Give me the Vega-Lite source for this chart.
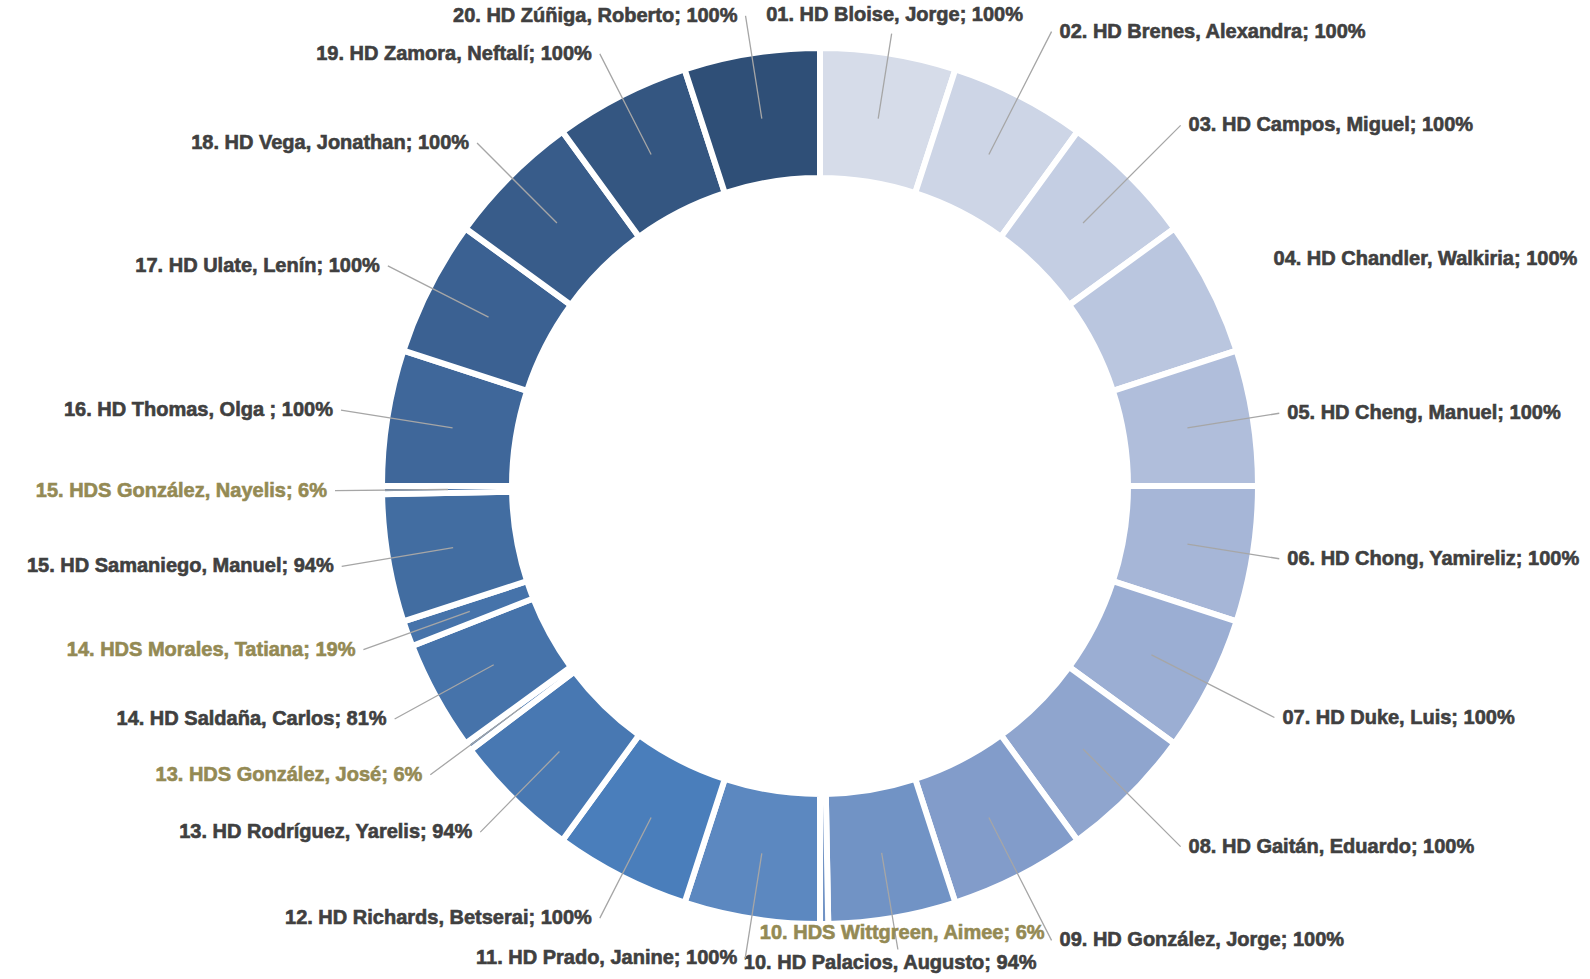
{
  "$schema": "https://vega.github.io/schema/vega-lite/v6.json",
  "width": 1590,
  "height": 979,
  "autosize": {"type": "fit", "contains": "padding"},
  "padding": {"left": 50, "top": 0, "right": 0, "bottom": 7},
  "background": "white",
  "config": {"view": {"stroke": null}, "text": {"font": "Liberation Sans", "fontSize": 20, "fontWeight": "bold", "strokeWidth": 0.6}},
  "data": {"values": [
    {"group": "01", "kind": "HD", "label": "01. HD Bloise, Jorge; 100%", "value": 100},
    {"group": "02", "kind": "HD", "label": "02. HD Brenes, Alexandra; 100%", "value": 100},
    {"group": "03", "kind": "HD", "label": "03. HD Campos, Miguel; 100%", "value": 100},
    {"group": "04", "kind": "HD", "label": "04. HD Chandler, Walkiria; 100%", "value": 100},
    {"group": "05", "kind": "HD", "label": "05. HD Cheng, Manuel; 100%", "value": 100},
    {"group": "06", "kind": "HD", "label": "06. HD Chong, Yamireliz; 100%", "value": 100},
    {"group": "07", "kind": "HD", "label": "07. HD Duke, Luis; 100%", "value": 100},
    {"group": "08", "kind": "HD", "label": "08. HD Gaitán, Eduardo; 100%", "value": 100},
    {"group": "09", "kind": "HD", "label": "09. HD González, Jorge; 100%", "value": 100},
    {"group": "10", "kind": "HD", "label": "10. HD Palacios, Augusto; 94%", "value": 94},
    {"group": "10", "kind": "HDS", "label": "10. HDS Wittgreen, Aimee; 6%", "value": 6},
    {"group": "11", "kind": "HD", "label": "11. HD Prado, Janine; 100%", "value": 100},
    {"group": "12", "kind": "HD", "label": "12. HD Richards, Betserai; 100%", "value": 100},
    {"group": "13", "kind": "HD", "label": "13. HD Rodríguez, Yarelis; 94%", "value": 94},
    {"group": "13", "kind": "HDS", "label": "13. HDS González, José; 6%", "value": 6},
    {"group": "14", "kind": "HD", "label": "14. HD Saldaña, Carlos; 81%", "value": 81},
    {"group": "14", "kind": "HDS", "label": "14. HDS Morales, Tatiana; 19%", "value": 19},
    {"group": "15", "kind": "HD", "label": "15. HD Samaniego, Manuel; 94%", "value": 94},
    {"group": "15", "kind": "HDS", "label": "15. HDS González, Nayelis; 6%", "value": 6},
    {"group": "16", "kind": "HD", "label": "16. HD Thomas, Olga ; 100%", "value": 100},
    {"group": "17", "kind": "HD", "label": "17. HD Ulate, Lenín; 100%", "value": 100},
    {"group": "18", "kind": "HD", "label": "18.  HD Vega, Jonathan; 100%", "value": 100},
    {"group": "19", "kind": "HD", "label": "19. HD Zamora, Neftalí; 100%", "value": 100},
    {"group": "20", "kind": "HD", "label": "20. HD Zúñiga, Roberto; 100%", "value": 100}
  ]},
  "transform": [
    {"stack": "value", "groupby": [], "sort": [{"field": "group", "order": "ascending"}, {"field": "kind", "order": "ascending"}], "as": ["t0", "t1"]},
    {"calculate": "(datum.t0 + datum.t1) / 2", "as": "mid"}
  ],
  "layer": [
    {
      "mark": {"type": "arc", "radius": 438, "radius2": 308, "stroke": "white", "strokeWidth": 6},
      "encoding": {
        "theta": {"field": "t0", "type": "quantitative", "stack": null, "scale": {"domain": [0, 2000]}},
        "theta2": {"field": "t1"},
        "color": {"field": "group", "type": "nominal", "legend": null,
          "scale": {"range": ["#D6DCE9", "#CDD5E6", "#C4CEE3", "#BAC6DF", "#B0BEDB", "#A6B6D7", "#9BAED3", "#8FA5CE", "#829CCA", "#7193C5", "#5C88C0", "#4A7EBB", "#4878B2", "#4673AA", "#426DA1", "#3F679A", "#3B6192", "#385C8A", "#345681", "#2F4F77"]}}
      }
    },
    {
      "transform": [{"filter": {"field": "group", "equal": "01"}}],
      "layer": [
        {"mark": {"type": "arc", "filled": false, "stroke": "#A6A6A6", "strokeWidth": 1.3, "radius": 458, "radius2": 372},
         "encoding": {"theta": {"field": "mid", "type": "quantitative", "stack": null, "scale": {"domain": [0, 2000]}}, "theta2": {"field": "mid"}}},
        {"mark": {"type": "text", "radius": 477, "align": "center", "baseline": "middle"},
         "encoding": {"theta": {"field": "mid", "type": "quantitative", "stack": null, "scale": {"domain": [0, 2000]}}, "text": {"field": "label"},
           "color": {"condition": {"test": "datum.kind === 'HDS'", "value": "#948A54"}, "value": "#404040"},
           "stroke": {"condition": {"test": "datum.kind === 'HDS'", "value": "#948A54"}, "value": "#404040"}}}
      ]
    },
    {
      "transform": [{"filter": {"field": "group", "oneOf": ["02", "03", "07", "08", "09"]}}],
      "layer": [
        {"mark": {"type": "arc", "filled": false, "stroke": "#A6A6A6", "strokeWidth": 1.3, "radius": 510, "radius2": 372},
         "encoding": {"theta": {"field": "mid", "type": "quantitative", "stack": null, "scale": {"domain": [0, 2000]}}, "theta2": {"field": "mid"}}},
        {"mark": {"type": "text", "radius": 510, "align": "left", "baseline": "middle", "dx": 8},
         "encoding": {"theta": {"field": "mid", "type": "quantitative", "stack": null, "scale": {"domain": [0, 2000]}}, "text": {"field": "label"},
           "color": {"condition": {"test": "datum.kind === 'HDS'", "value": "#948A54"}, "value": "#404040"},
           "stroke": {"condition": {"test": "datum.kind === 'HDS'", "value": "#948A54"}, "value": "#404040"}}}
      ]
    },
    {
      "transform": [{"filter": {"field": "group", "equal": "04"}}],
      "mark": {"type": "text", "radius": 500, "align": "left", "baseline": "middle", "dx": 8},
      "encoding": {"theta": {"field": "mid", "type": "quantitative", "stack": null, "scale": {"domain": [0, 2000]}}, "text": {"field": "label"},
        "color": {"condition": {"test": "datum.kind === 'HDS'", "value": "#948A54"}, "value": "#404040"},
        "stroke": {"condition": {"test": "datum.kind === 'HDS'", "value": "#948A54"}, "value": "#404040"}}
    },
    {
      "transform": [{"filter": {"field": "group", "oneOf": ["05", "06"]}}],
      "layer": [
        {"mark": {"type": "arc", "filled": false, "stroke": "#A6A6A6", "strokeWidth": 1.3, "radius": 465, "radius2": 372},
         "encoding": {"theta": {"field": "mid", "type": "quantitative", "stack": null, "scale": {"domain": [0, 2000]}}, "theta2": {"field": "mid"}}},
        {"mark": {"type": "text", "radius": 465, "align": "left", "baseline": "middle", "dx": 8},
         "encoding": {"theta": {"field": "mid", "type": "quantitative", "stack": null, "scale": {"domain": [0, 2000]}}, "text": {"field": "label"},
           "color": {"condition": {"test": "datum.kind === 'HDS'", "value": "#948A54"}, "value": "#404040"},
           "stroke": {"condition": {"test": "datum.kind === 'HDS'", "value": "#948A54"}, "value": "#404040"}}}
      ]
    },
    {
      "transform": [{"filter": "datum.group === '10' && datum.kind === 'HD'"}],
      "layer": [
        {"mark": {"type": "arc", "filled": false, "stroke": "#A6A6A6", "strokeWidth": 1.3, "radius": 470, "radius2": 372},
         "encoding": {"theta": {"field": "mid", "type": "quantitative", "stack": null, "scale": {"domain": [0, 2000]}}, "theta2": {"field": "mid"}}},
        {"mark": {"type": "text", "radius": 484, "align": "center", "baseline": "middle", "dx": -10},
         "encoding": {"theta": {"field": "mid", "type": "quantitative", "stack": null, "scale": {"domain": [0, 2000]}}, "text": {"field": "label"},
           "color": {"condition": {"test": "datum.kind === 'HDS'", "value": "#948A54"}, "value": "#404040"},
           "stroke": {"condition": {"test": "datum.kind === 'HDS'", "value": "#948A54"}, "value": "#404040"}}}
      ]
    },
    {
      "transform": [{"filter": "datum.group === '10' && datum.kind === 'HDS'"}],
      "mark": {"type": "text", "radius": 447, "align": "center", "baseline": "middle", "dx": 78},
      "encoding": {"theta": {"field": "mid", "type": "quantitative", "stack": null, "scale": {"domain": [0, 2000]}}, "text": {"field": "label"},
        "color": {"condition": {"test": "datum.kind === 'HDS'", "value": "#948A54"}, "value": "#404040"},
        "stroke": {"condition": {"test": "datum.kind === 'HDS'", "value": "#948A54"}, "value": "#404040"}}
    },
    {
      "transform": [{"filter": {"field": "group", "equal": "11"}}],
      "layer": [
        {"mark": {"type": "arc", "filled": false, "stroke": "#A6A6A6", "strokeWidth": 1.3, "radius": 478, "radius2": 372},
         "encoding": {"theta": {"field": "mid", "type": "quantitative", "stack": null, "scale": {"domain": [0, 2000]}}, "theta2": {"field": "mid"}}},
        {"mark": {"type": "text", "radius": 478, "align": "right", "baseline": "middle", "dx": -8},
         "encoding": {"theta": {"field": "mid", "type": "quantitative", "stack": null, "scale": {"domain": [0, 2000]}}, "text": {"field": "label"},
           "color": {"condition": {"test": "datum.kind === 'HDS'", "value": "#948A54"}, "value": "#404040"},
           "stroke": {"condition": {"test": "datum.kind === 'HDS'", "value": "#948A54"}, "value": "#404040"}}}
      ]
    },
    {
      "transform": [{"filter": "datum.group >= '12' && datum.group <= '19'"}],
      "layer": [
        {"mark": {"type": "arc", "filled": false, "stroke": "#A6A6A6", "strokeWidth": 1.3, "radius": 485, "radius2": 372},
         "encoding": {"theta": {"field": "mid", "type": "quantitative", "stack": null, "scale": {"domain": [0, 2000]}}, "theta2": {"field": "mid"}}},
        {"mark": {"type": "text", "radius": 485, "align": "right", "baseline": "middle", "dx": -8},
         "encoding": {"theta": {"field": "mid", "type": "quantitative", "stack": null, "scale": {"domain": [0, 2000]}}, "text": {"field": "label"},
           "color": {"condition": {"test": "datum.kind === 'HDS'", "value": "#948A54"}, "value": "#404040"},
           "stroke": {"condition": {"test": "datum.kind === 'HDS'", "value": "#948A54"}, "value": "#404040"}}}
      ]
    },
    {
      "transform": [{"filter": {"field": "group", "equal": "20"}}],
      "layer": [
        {"mark": {"type": "arc", "filled": false, "stroke": "#A6A6A6", "strokeWidth": 1.3, "radius": 476, "radius2": 372},
         "encoding": {"theta": {"field": "mid", "type": "quantitative", "stack": null, "scale": {"domain": [0, 2000]}}, "theta2": {"field": "mid"}}},
        {"mark": {"type": "text", "radius": 476, "align": "right", "baseline": "middle", "dx": -8},
         "encoding": {"theta": {"field": "mid", "type": "quantitative", "stack": null, "scale": {"domain": [0, 2000]}}, "text": {"field": "label"},
           "color": {"condition": {"test": "datum.kind === 'HDS'", "value": "#948A54"}, "value": "#404040"},
           "stroke": {"condition": {"test": "datum.kind === 'HDS'", "value": "#948A54"}, "value": "#404040"}}}
      ]
    }
  ]
}
